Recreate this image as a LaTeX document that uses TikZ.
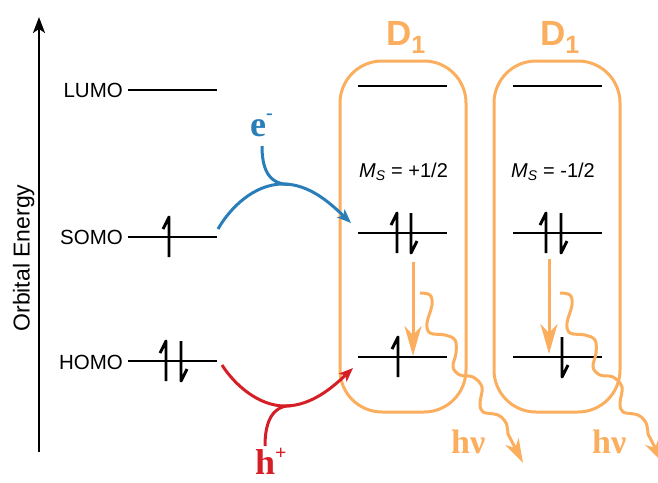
\documentclass[tikz,border=0pt]{standalone}
\usepackage{fontspec}
\setmainfont{Liberation Sans}
\newfontfamily\tnrfont{Liberation Serif}
\usetikzlibrary{arrows.meta}
\definecolor{dorange}{RGB}{251,174,94}
\definecolor{eblue}{RGB}{41,126,186}
\definecolor{hred}{RGB}{214,30,38}
\begin{document}
\begin{tikzpicture}[x=1pt,y=-1pt,
  level/.style={line width=2.6pt},
  spin/.style={line width=2.9pt, line cap=butt, line join=round},
  dbox/.style={draw=dorange, line width=3pt, rounded corners=42pt},
  lvllabel/.style={inner sep=0pt, font=\fontsize{20.5}{24}\selectfont},
  mslabel/.style={inner sep=0pt, anchor=base, font=\fontsize{20}{24}\selectfont},
  dlabel/.style={inner sep=0pt, anchor=base west, text=dorange, font=\bfseries\fontsize{35}{40}\selectfont},
  serlabel/.style={inner sep=0pt, anchor=base west, font=\tnrfont\bfseries\fontsize{36}{40}\selectfont},
  hvlabel/.style={inner sep=0pt, anchor=base west, text=dorange, font=\tnrfont\bfseries\fontsize{34}{40}\selectfont},
  relax/.style={dorange, line width=3pt, -{Stealth[length=30pt,width=17pt,inset=9pt]}},
  wave/.style={dorange, line width=3pt, -{Stealth[length=24pt,width=15pt,inset=7pt]}},
  carrier/.style={line width=3pt, -{Stealth[length=14pt,width=11pt,inset=3.5pt]}},
  branch/.style={line width=3pt},
  upspin/.pic={\draw[spin] (-6,-8) -- (0,-20) -- (0,20);},
  dnspin/.pic={\draw[spin] (0,-20) -- (0,20) -- (6,8);},
  photon/.pic={\draw[wave] plot[smooth,tension=0.6] coordinates {(0,0) (10,2) (12,12) (7,30) (10,40) (25,42) (35,47) (36,60) (33,74) (40,82) (53,84) (62,94) (60,110) (63,119) (78,122) (86,130) (88,141)} -- (103,170);}
]
\useasboundingbox (0,0) rectangle (658,482);
\clip (0,0) rectangle (658,482);

% axis
\coordinate (axB) at (39,452);
\coordinate (axT) at (39,17);
\draw[line width=2pt, -{Stealth[length=16pt,width=12pt,inset=4pt]}] (axB) -- (axT);
\node[rotate=90, anchor=base, inner sep=0pt, font=\fontsize{23}{27}\selectfont] (axlab) at (29.5,258) {Orbital Energy};

% boxes
\draw[dbox] (340,61) rectangle (466,412);
\draw[dbox] (494,61) rectangle (620,412);
\node[dlabel] (d1l) at (386,45) {D\raisebox{-8pt}{\fontsize{25}{25}\selectfont 1}};
\node[dlabel] (d1r) at (540,45) {D\raisebox{-8pt}{\fontsize{25}{25}\selectfont 1}};

% left levels
\coordinate (lumoA) at (128,90);  \coordinate (lumoB) at (217,90);
\coordinate (somoA) at (128,237); \coordinate (somoB) at (217,237);
\coordinate (homoA) at (128,361); \coordinate (homoB) at (217,361);
\draw[level] (lumoA) -- (lumoB);
\draw[level] (somoA) -- (somoB);
\draw[level] (homoA) -- (homoB);
\node[lvllabel, anchor=east] (lumo) at (123,90) {LUMO};
\node[lvllabel, anchor=east] (somo) at (123,237) {SOMO};
\node[lvllabel, anchor=east] (homo) at (123,362) {HOMO};
\pic at (169,237) {upspin};
\pic at (166,361) {upspin};
\pic at (181,361) {dnspin};

% box levels
\coordinate (l1A) at (358,86);  \coordinate (l1B) at (447,86);
\coordinate (l2A) at (358,233); \coordinate (l2B) at (447,233);
\coordinate (l3A) at (358,357); \coordinate (l3B) at (447,357);
\coordinate (r1A) at (513,86);  \coordinate (r1B) at (602,86);
\coordinate (r2A) at (513,233); \coordinate (r2B) at (602,233);
\coordinate (r3A) at (513,357); \coordinate (r3B) at (602,357);
\foreach \a/\b in {l1A/l1B,l2A/l2B,l3A/l3B,r1A/r1B,r2A/r2B,r3A/r3B}
  \draw[level] (\a) -- (\b);
\node[mslabel] (msl) at (403.5,177) {\itshape M\textsubscript{S}\upshape{} = +1/2};
\node[mslabel] (msr) at (553,177) {\itshape M\textsubscript{S}\upshape{} = -1/2};
\pic at (397,233) {upspin};
\pic at (411,233) {dnspin};
\pic at (546,233) {upspin};
\pic at (561,233) {dnspin};
\pic at (398,357) {upspin};
\pic at (562,357) {dnspin};

% relaxation arrows
\coordinate (lrT) at (413,262); \coordinate (lrB) at (413,356);
\coordinate (rrT) at (549,259); \coordinate (rrB) at (549,354);
\draw[relax] (lrT) -- (lrB);
\draw[relax] (rrT) -- (rrB);

% photons
\pic at (420,293) {photon};
\pic at (560,293) {photon};
\node[hvlabel] (hvl) at (451,453) {hν};
\node[hvlabel] (hvr) at (592,453) {hν};

% electron transfer
\coordinate (eS) at (218,229); \coordinate (eE) at (351,223);
\coordinate (eP) at (283,184);
\coordinate (eT) at (262,146);
\draw[carrier, eblue] (eS) .. controls (230,208) and (254,184) .. (eP)
   .. controls (310,184) and (331,204) .. coordinate[pos=0.08] (ej) (eE);
\draw[branch, eblue] (eT) .. controls (262,168) and (268,184.5) .. (ej);
\node[serlabel, text=eblue] (elab) at (250,136) {e\raisebox{17pt}{\fontsize{20}{20}\selectfont -}};

% hole transfer
\coordinate (hS) at (222,365); \coordinate (hE) at (353,368);
\coordinate (hP) at (285,406);
\coordinate (hT) at (265,446);
\draw[carrier, hred] (hS) .. controls (234,384) and (258,406) .. (hP)
   .. controls (312,406) and (334,386) .. coordinate[pos=0.08] (hj) (hE);
\draw[branch, hred] (hT) .. controls (265,426) and (270,405.5) .. (hj);
\node[serlabel, text=hred] (hlab) at (255,474) {h\raisebox{15pt}{\fontsize{20}{20}\selectfont +}};
\end{tikzpicture}
\end{document}
